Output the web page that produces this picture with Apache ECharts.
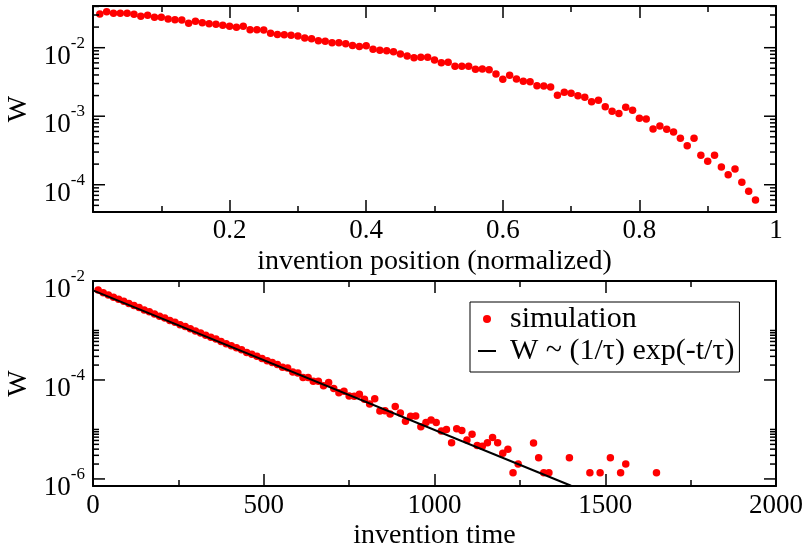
<!DOCTYPE html>
<html>
<head>
<meta charset="utf-8">
<script src="https://cdn.jsdelivr.net/npm/echarts@6/dist/echarts.min.js"></script>
<style>html,body{margin:0;padding:0;background:#fff}#c{width:804px;height:545px}</style>
</head>
<body>
<div id="c"></div>
<script>
// ---- Top panel: W vs invention position (normalized) ----
const topPos = [0.01,0.02,0.03,0.04,0.05,0.06,0.07,0.08,0.09,0.10,
  0.11,0.12,0.13,0.14,0.15,0.16,0.17,0.18,0.19,0.20,
  0.21,0.22,0.23,0.24,0.25,0.26,0.27,0.28,0.29,0.30,
  0.31,0.32,0.33,0.34,0.35,0.36,0.37,0.38,0.39,0.40,
  0.41,0.42,0.43,0.44,0.45,0.46,0.47,0.48,0.49,0.50,
  0.51,0.52,0.53,0.54,0.55,0.56,0.57,0.58,0.59,0.60,
  0.61,0.62,0.63,0.64,0.65,0.66,0.67,0.68,0.69,0.70,
  0.71,0.72,0.73,0.74,0.75,0.76,0.77,0.78,0.79,0.80,
  0.81,0.82,0.83,0.84,0.85,0.86,0.87,0.88,0.89,0.90,
  0.91,0.92,0.93,0.94,0.95,0.96,0.97];
const topW = [0.0310,0.0336,0.0318,0.0318,0.0318,0.0308,0.0287,0.0297,0.0278,0.0278,
  0.0262,0.0256,0.0254,0.0227,0.0243,0.0232,0.0224,0.0220,0.0212,0.0205,
  0.0199,0.0205,0.0183,0.0183,0.0181,0.0162,0.0156,0.0155,0.0152,0.0148,
  0.0139,0.0135,0.0126,0.0124,0.0118,0.0118,0.0114,0.0108,0.0104,0.0107,
  0.00948,0.00916,0.00904,0.00875,0.00809,0.00757,0.00714,0.00724,0.00724,0.00661,
  0.00604,0.00612,0.00535,0.00535,0.00535,0.00484,0.00489,0.00478,0.00413,0.00346,
  0.00395,0.00349,0.00323,0.00319,0.00279,0.00276,0.00267,0.00202,0.00223,0.00216,
  0.00199,0.00189,0.00163,0.00171,0.00138,0.00118,0.00110,0.00135,0.00122,0.000931,
  0.000910,0.000650,0.000719,0.000644,0.000588,0.000475,0.000371,0.000475,0.000269,0.000220,
  0.000269,0.000181,0.000140,0.000169,0.000109,0.0000802,0.0000598];

// ---- Bottom panel: W vs invention time ----
const botT = [15,30,45,60,75,90,105,120,135,150,
  165,180,195,210,225,240,255,270,285,300,
  315,330,345,360,375,390,405,420,435,450,
  465,480,495,510,525,540,555,570,585,600,
  615,630,645,660,675,690,705,720,735,750,
  765,780,795,810,825,840,855,870,885,900,
  915,930,945,960,975,990,1005,1020,1035,1050,
  1065,1080,1095,1110,1125,1140,1155,1170,1185,1200,
  1215,1230,1245,1290,1305,1320,1335,1395,1455,1485,
  1515,1545,1560,1650];
const botW = [0.0066,0.0058,0.0052,0.0047,0.0043,0.0039,0.0035,0.0032,0.0029,0.0026,
  0.0024,0.00215,0.00195,0.00178,0.00160,0.00146,0.00131,0.00120,0.00108,0.00098,
  0.00089,0.00080,0.00073,0.00067,0.00060,0.00054,0.00049,0.00045,0.00041,0.00036,
  0.00033,0.00030,0.00027,0.000245,0.000225,0.000205,0.000180,0.000175,0.000145,0.000138,
  0.000112,0.000112,0.000094,0.000094,0.000076,0.000089,0.000067,0.000055,0.000059,0.0000475,
  0.000047,0.0000515,0.000041,0.0000325,0.0000415,0.0000235,0.000024,0.0000205,0.000029,0.0000215,
  0.0000147,0.0000185,0.0000188,0.0000113,0.0000138,0.0000156,0.0000138,0.0000093,0.0000100,0.0000054,
  0.0000103,0.0000095,0.0000061,0.0000080,0.00000475,0.0000046,0.0000054,0.0000069,0.0000054,0.0000033,
  0.0000040,0.00000133,0.0000020,0.00000533,0.00000267,0.00000133,0.00000133,0.00000267,0.00000133,0.00000133,
  0.00000267,0.00000133,0.0000020,0.00000133];

// fit line endpoints
const fitT = [0, 1400];
const fitW = [0.00645, 0.00000073];

const seriesNames = ['simulation', 'W ~ (1/τ) exp(-t/τ)'];

// log-axis tick marks
const topMajorTicks = [0.0001, 0.001, 0.01];
const topMinorTicks = [0.00005,0.00006,0.00007,0.00008,0.00009,
  0.0002,0.0003,0.0004,0.0005,0.0006,0.0007,0.0008,0.0009,
  0.002,0.003,0.004,0.005,0.006,0.007,0.008,0.009,
  0.02,0.03,0.04];
const botMajorTicks = [0.000001, 0.0001, 0.01];
const botMinorTicks = [0.000002,0.000003,0.000004,0.000005,0.000006,0.000007,0.000008,0.000009,0.00001,
  0.0002,0.0003,0.0004,0.0005,0.0006,0.0007,0.0008,0.0009,0.001];

const FONT = "'Liberation Serif', 'Times New Roman', serif";

function zip(a, b) { return a.map((v, i) => [v, b[i]]); }

function expLabel(skipOdd) {
  return function (v) {
    const e = Math.log10(v);
    const r = Math.round(e);
    if (Math.abs(e - r) > 1e-6) return '';
    if (skipOdd && Math.abs(r) % 2 === 1) return '';
    return '{b|10}{s|' + r + '}';
  };
}

const richLab = {
  b: { fontFamily: FONT, fontSize: 27, lineHeight: 44, color: '#000' },
  s: { fontFamily: FONT, fontSize: 17, lineHeight: 17, verticalAlign: 'top', color: '#000' }
};

const lineStyle = { color: '#000', width: 2 };
const tickStyle = { color: '#000', width: 1.5 };

function xAxisMain(grid, min, max, interval, name, nameGap, labelMargin, hideZero) {
  return {
    type: 'value', gridIndex: grid, min: min, max: max, interval: interval,
    position: 'bottom',
    name: name, nameLocation: 'middle', nameGap: nameGap,
    nameTextStyle: { fontFamily: FONT, fontSize: 28, color: '#000' },
    axisLine: { onZero: false, lineStyle: lineStyle },
    axisTick: { inside: true, length: 12, lineStyle: tickStyle },
    minorTick: { show: true, splitNumber: 2, length: 6, lineStyle: tickStyle },
    splitLine: { show: false },
    axisLabel: {
      fontFamily: FONT, fontSize: 27, color: '#000', margin: labelMargin, lineHeight: 30,
      formatter: function (v) { return (hideZero && v === 0) ? '' : String(v); }
    }
  };
}
function xAxisTop(grid, min, max, interval) {
  return {
    type: 'value', gridIndex: grid, min: min, max: max, interval: interval,
    position: 'top',
    axisLine: { onZero: false, lineStyle: lineStyle },
    axisTick: { inside: true, length: 12, lineStyle: tickStyle },
    minorTick: { show: true, splitNumber: 2, length: 6, lineStyle: tickStyle },
    splitLine: { show: false },
    axisLabel: { show: false }
  };
}
function yAxisMain(grid, min, max, skipOdd) {
  return {
    type: 'log', logBase: 10, gridIndex: grid, min: min, max: max,
    position: 'left',
    name: 'W', nameLocation: 'middle', nameGap: 34,
    nameTextStyle: { fontFamily: FONT, fontSize: 28, color: '#000' },
    axisLine: { onZero: false, lineStyle: lineStyle },
    axisTick: { show: false },
    splitLine: { show: false },
    minorSplitLine: { show: false },
    axisLabel: {
      margin: 8, padding: [18, 0, 0, 0],
      formatter: expLabel(skipOdd), rich: richLab
    }
  };
}
function yAxisRight(grid, min, max) {
  return {
    type: 'log', logBase: 10, gridIndex: grid, min: min, max: max,
    position: 'right',
    axisLine: { onZero: false, lineStyle: lineStyle },
    axisTick: { show: false },
    splitLine: { show: false },
    axisLabel: { show: false }
  };
}

function tickSeries(xi, yi, xMin, major, minor) {
  const data = major.map(v => [xMin, v, 12]).concat(minor.map(v => [xMin, v, 6]));
  return {
    type: 'custom', xAxisIndex: xi, yAxisIndex: yi, silent: true, clip: false,
    encode: { x: 0, y: 1 }, z: 5,
    data: data,
    renderItem: function (params, api) {
      const p = api.coord([xMin, api.value(1)]);
      const len = api.value(2);
      const cs = params.coordSys;
      const st = { stroke: '#000', lineWidth: 1.5 };
      return {
        type: 'group', children: [
          { type: 'line', shape: { x1: cs.x, y1: p[1], x2: cs.x + len, y2: p[1] }, style: st },
          { type: 'line', shape: { x1: cs.x + cs.width - len, y1: p[1], x2: cs.x + cs.width, y2: p[1] }, style: st }
        ]
      };
    }
  };
}

const chart = echarts.init(document.getElementById('c'), null, { renderer: 'canvas' });
chart.setOption({
  animation: false,
  backgroundColor: '#fff',
  grid: [
    { left: 93, right: 28, top: 6, height: 206, containLabel: false, outerBoundsMode: 'none' },
    { left: 93, right: 28, top: 281, height: 205, containLabel: false, outerBoundsMode: 'none' }
  ],
  xAxis: [
    xAxisMain(0, 0, 1, 0.2, 'invention position (normalized)', 36, 4, true),
    xAxisTop(0, 0, 1, 0.2),
    xAxisMain(1, 0, 2000, 500, 'invention time', 33, 5, false),
    xAxisTop(1, 0, 2000, 500)
  ],
  yAxis: [
    yAxisMain(0, 0.00004, 0.0406, false),
    yAxisRight(0, 0.00004, 0.0406),
    yAxisMain(1, 0.00000072, 0.01, true),
    yAxisRight(1, 0.00000072, 0.01)
  ],
  legend: {
    left: 470, top: 302, orient: 'vertical',
    data: [
      { name: seriesNames[0], icon: 'circle', itemStyle: { color: '#ff0000', opacity: 1 } },
      { name: seriesNames[1], icon: 'path://M0 0H90V10H0Z', itemStyle: { color: '#000' } }
    ],
    itemWidth: 18, itemHeight: 8, itemGap: 2,
    borderColor: '#000', borderWidth: 1, padding: [2, 5, 6, 8],
    selectedMode: false,
    textStyle: { fontFamily: FONT, fontSize: 30, color: '#000', lineHeight: 28, padding: [0, 0, 0, 9] }
  },
  series: [
    tickSeries(0, 0, 0, topMajorTicks, topMinorTicks),
    tickSeries(2, 2, 0, botMajorTicks, botMinorTicks),
    {
      type: 'scatter', name: 'top', xAxisIndex: 0, yAxisIndex: 0,
      data: zip(topPos, topW), symbol: 'circle', symbolSize: 7.5,
      itemStyle: { color: '#ff0000', opacity: 1 }, z: 3
    },
    {
      type: 'scatter', name: seriesNames[0], xAxisIndex: 2, yAxisIndex: 2,
      data: zip(botT, botW), symbol: 'circle', symbolSize: 7.5,
      itemStyle: { color: '#ff0000', opacity: 1 }, z: 3
    },
    {
      type: 'line', name: seriesNames[1], xAxisIndex: 2, yAxisIndex: 2,
      data: zip(fitT, fitW), symbol: 'none', showSymbol: false,
      lineStyle: { color: '#000', width: 2 }, itemStyle: { color: '#000' }, z: 4
    }
  ]
});
</script>
</body>
</html>
